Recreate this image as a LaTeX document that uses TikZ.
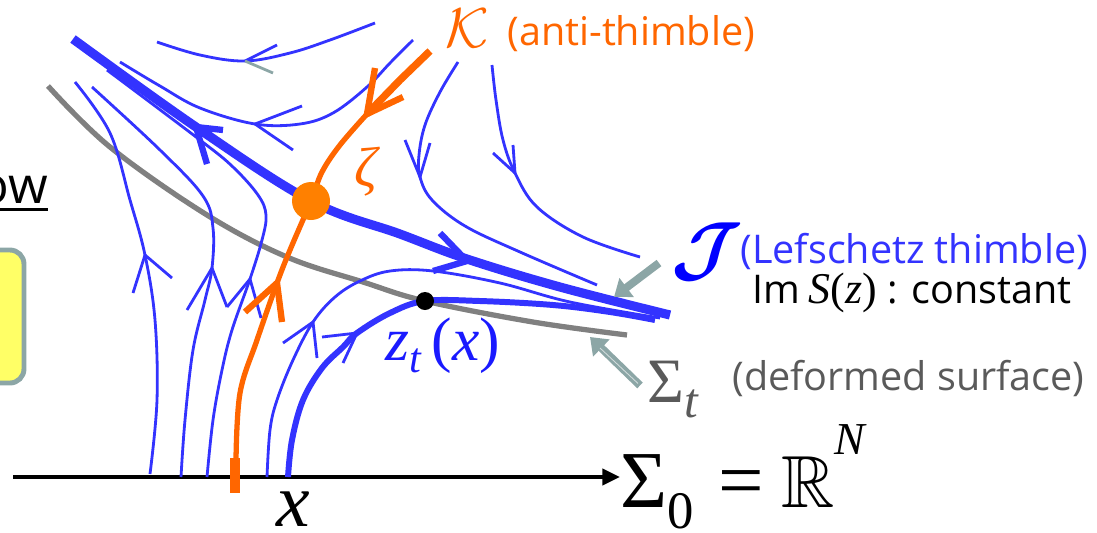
\documentclass[tikz,border=0pt]{standalone}
\usepackage{fontspec}
\usepackage{amsmath,amssymb}
\usepackage{graphicx}
\setmainfont{Liberation Serif}
\newfontfamily\labelfont{Open Sans}
\newfontfamily\tmsfont{Liberation Serif}
\usepackage{tikz}
\usetikzlibrary{arrows.meta,calc}
\definecolor{FlowBlue}{HTML}{3333FF}
\definecolor{DeepBlue}{HTML}{1A1AFF}
\definecolor{Anti}{HTML}{FF6600}
\definecolor{Saddle}{HTML}{FF8000}
\definecolor{Surface}{HTML}{808080}
\definecolor{SurfText}{HTML}{5A5A5A}
\definecolor{Pointer}{HTML}{8CA6A6}
\definecolor{Note}{HTML}{FFFF66}
\newcommand{\bigsym}[2]{{\fontsize{10}{12}\selectfont\scalebox{#1}{$#2$}}}

\begin{document}
\begin{tikzpicture}[x=0.02cm,y=-0.02cm,
  lbl/.style={font=\labelfont\fontsize{22.5}{24}\selectfont,inner sep=0pt},
  flow/.style={draw=FlowBlue,line width=1.6pt},
  flowthick/.style={draw=FlowBlue,line width=3.4pt},
  thimble/.style={draw=FlowBlue,line width=5.2pt},
  thimblehead/.style={draw=FlowBlue,line width=3.6pt},
  antithimble/.style={draw=Anti,line width=3pt},
  antihead/.style={draw=Anti,line width=3.6pt},
  surface/.style={draw=Surface,line width=3pt},
  axis/.style={draw=black,line width=2.6pt,-{Triangle[length=10pt,width=9pt]}},
  pointer/.style={draw=Pointer,line width=4.5pt,-{Triangle[length=9pt,width=13pt]}},
  notebox/.style={draw=Pointer,line width=2.8pt,fill=Note,rounded corners=8pt}
]
\useasboundingbox (0,0) rectangle (1097,532);

% what is left of the slide on the left
\node[lbl,font=\labelfont\fontsize{29}{30}\selectfont,anchor=base east] (ow) at (48,203) {ow};
\draw[line width=1.7pt] ([yshift=-3.6pt]ow.base west) -- ([yshift=-3.6pt]ow.base east);
\draw[notebox] (-40,250) rectangle (24,383);

% labels
\node[text=Anti,inner sep=0pt] (antiK) at (467,28) {\bigsym{3.2}{\mathcal{K}}};
\node[lbl,text=Anti,anchor=base west] (antiLabel) at (507,45) {(anti-thimble)};
\node[text=Anti,inner sep=0pt] (zeta) at (366,172) {\tmsfont\itshape\fontsize{32}{32}\selectfont ζ};
\node[text=blue,inner sep=0pt] (thimJ) at (707,252) {\bigsym{4.2}{\boldsymbol{\mathcal{J}}}};
\node[lbl,text=FlowBlue,anchor=base west] (thimLabel) at (740,263) {(Lefschetz thimble)};
\node[lbl,anchor=base west] (imS) at (752,303)
  {Im\hspace{5pt}{\tmsfont\fontsize{25}{25}\selectfont\itshape S\upshape(\itshape z\upshape)} : constant};
\node[text=SurfText,anchor=base west,inner sep=0pt] (sigmaT) at (647,402)
  {\tmsfont\fontsize{36}{36}\selectfont Σ\raisebox{-9pt}{\itshape\fontsize{28}{28}\selectfont t}};
\node[lbl,text=SurfText,anchor=base west] (deformLabel) at (732,390) {(deformed surface)};
\node[text=DeepBlue,anchor=base west,inner sep=0pt] (zt) at (385,360)
  {\tmsfont\fontsize{35}{35}\selectfont\itshape z\raisebox{-7pt}{\fontsize{24}{24}\selectfont t}\hspace{6pt}\upshape(\itshape x\upshape)};
\node[anchor=base,inner sep=0pt] (xlab) at (293,526) {\tmsfont\itshape\fontsize{43}{43}\selectfont x};
\node[anchor=base west,inner sep=0pt] (sigma0) at (620,507)
  {\tmsfont\fontsize{46}{46}\selectfont Σ\raisebox{-12pt}{\fontsize{30}{30}\selectfont 0}\hspace{14pt}=\hspace{10pt}\bigsym{4.2}{\mathbb{R}}\raisebox{30pt}{\fontsize{26}{26}\selectfont\itshape N}};

% the real axis
\coordinate (axisStart) at (13,477);
\draw[axis] (axisStart) -- (axisStart -| sigma0.west);

% deformed surface
\draw[surface] plot[smooth,tension=0.6] coordinates {(48,86) (110,147) (207,215) (287,257) (363,282) (425,301) (533,322) (627,335)};

% flow lines coming up from the axis
\draw[flow] plot[smooth,tension=0.6] coordinates {(150,474) (157,400) (155,320) (145,255) (130,200) (110,133) (75,82)};
\draw[flow] (133,293) -- (145,255) -- (172,278);
\draw[flow] plot[smooth,tension=0.6] coordinates {(181,477) (185,420) (193,350) (205,300) (212,268) (213,228) (203,196) (160,150) (92,87)};
\draw[flow] (187,310) -- (212,268) -- (227,307);
\draw[flow] plot[smooth,tension=0.6] coordinates {(207,477) (213,420) (222,370) (232,330) (250,279) (262,240) (266,215) (258,195) (233,167) (200,140) (107,70)};
\draw[flow] (227,307) -- (250,279) -- (261,318);
\draw[flow] plot[smooth,tension=0.6] coordinates {(267,477) (270,430) (277,400) (293,360) (313,322) (335,297) (360,281) (390,271) (433,271) (500,283) (570,302) (660,318)};
\draw[flow] (283,343) -- (313,322) -- (317,358);
\draw[flowthick] plot[smooth,tension=0.6] coordinates {(288,477) (292,440) (303,400) (322,368) (343,347) (357,333) (390,313) (425,301) (480,301) (553,305) (610,312) (655,320)};
\draw[flow] (322,337) -- (357,333) -- (343,363);

% flow lines above the thimble
\draw[flow] plot[smooth,tension=0.6] coordinates {(375,23) (330,40) (290,53) (245,61) (200,55) (157,42)};
\draw[flow] (277,45) -- (245,61);
\draw[draw=Pointer,line width=1.6pt] (245,61) -- (273,73);
\draw[flow] plot[smooth,tension=0.6] coordinates {(413,40) (390,63) (367,87) (333,113) (300,124) (255,124) (200,108) (160,86) (120,62)};
\draw[flow] (302,106) -- (255,124) -- (293,150);
\draw[flow] plot[smooth,tension=0.6] coordinates {(458,62) (440,92) (425,125) (419,155) (420,177) (432,200) (465,226) (520,252) (597,285)};
\draw[flow] (405,140) -- (420,177) -- (430,143);
\draw[flow] plot[smooth,tension=0.6] coordinates {(492,65) (496,100) (503,140) (515,173) (537,207) (583,237) (640,257)};
\draw[flow] (493,153) -- (515,173) -- (513,145);

% Lefschetz thimble
\draw[thimble] plot[smooth,tension=0.6] coordinates {(73,39) (196,127) (311,201) (400,234) (467,259) (560,287) (670,315)};
\draw[thimblehead] (223,130) -- (196,127) -- (207,164);
\draw[thimblehead] (440,233) -- (467,261) -- (433,271);

% anti-thimble
\draw[antithimble] plot[smooth,tension=0.6] coordinates {(367,114) (340,145) (322,172) (311,201) (290,250) (277,283) (257,340) (240,393) (236,460)};
\draw[antithimble,line width=4.2pt] (430,51) -- (400,80) -- (367,114);
\draw[antithimble,line width=5.7pt] (235,458) -- (235,493);
\draw[antihead] (375,68) -- (367,114) -- (403,97);
\draw[antihead] (245,312) -- (277,283) -- (282,322);

% critical point and flowed point
\fill[Saddle] (311,201) circle (19);
\fill[black] (425,301) circle (9);

% pointers to the curves
\coordinate (thimPt) at (614,297);
\coordinate (surfPt) at (590,337);
\draw[pointer] ($(thimJ.west)+(-12,11)$) -- (thimPt);
\draw[pointer] ($(sigmaT.west)+(-7,-4)$) -- (surfPt);
\draw[draw=white,opacity=.6,line width=.5pt] ($(sigmaT.west)+(-9,-6)$) -- ($(surfPt)+(10,11)$);
\end{tikzpicture}
\end{document}
